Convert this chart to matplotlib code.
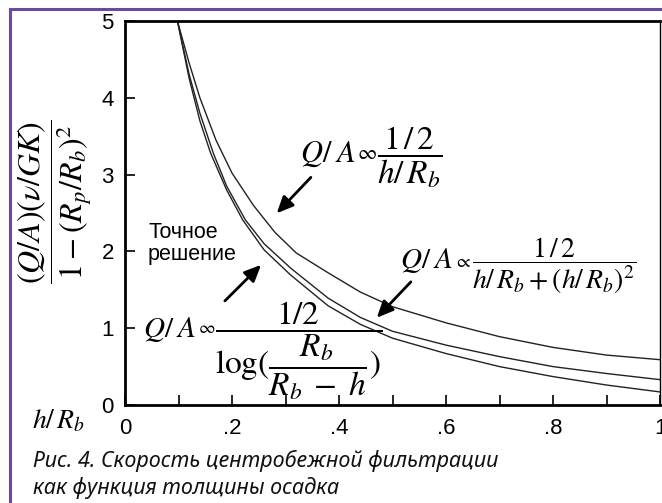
import matplotlib
matplotlib.use("Agg")
import matplotlib.pyplot as plt
from matplotlib.lines import Line2D
from matplotlib.ticker import FixedLocator, FixedFormatter

plt.rcParams['mathtext.fontset'] = 'stix'
plt.rcParams['font.family'] = ['Liberation Sans', 'DejaVu Sans']

# значения
h_upper = [0.098, 0.12, 0.14, 0.17, 0.2, 0.24, 0.28, 0.32, 0.38, 0.44, 0.5, 0.6, 0.7, 0.8, 0.9, 1.0]
q_upper = [5.0, 4.45, 4.0, 3.45, 3.02, 2.6, 2.25, 1.98, 1.72, 1.47, 1.28, 1.07, 0.89, 0.75, 0.65, 0.59]

h_mid = [0.098, 0.12, 0.14, 0.165, 0.19, 0.225, 0.26, 0.31, 0.38, 0.44, 0.5, 0.6, 0.7, 0.8, 0.9, 1.0]
q_mid = [5.0, 4.3, 3.8, 3.28, 2.85, 2.41, 2.1, 1.78, 1.39, 1.14, 0.96, 0.78, 0.63, 0.50, 0.41, 0.33]

h_exact = [0.098, 0.12, 0.14, 0.16, 0.19, 0.22, 0.26, 0.31, 0.38, 0.44, 0.5, 0.6, 0.7, 0.8, 0.9, 1.0]
q_exact = [5.0, 4.25, 3.7, 3.28, 2.8, 2.41, 2.02, 1.69, 1.29, 1.05, 0.87, 0.67, 0.50, 0.37, 0.26, 0.17]

x_ticks = [0, 0.2, 0.4, 0.6, 0.8, 1.0]
x_labels = ["0", ".2", ".4", ".6", ".8", "1"]
y_ticks = [0, 1, 2, 3, 4, 5]

fig = plt.figure(figsize=(6.62, 5.03), dpi=100)
ax = fig.add_axes([125/662, 98/503, 535/662, 384/503])

for hh, qq in [(h_upper, q_upper), (h_mid, q_mid), (h_exact, q_exact)]:
    ax.plot(hh, qq, color='#222222', lw=1.0)

ax.set_xlim(0, 1)
ax.set_ylim(0, 5)
ax.xaxis.set_major_locator(FixedLocator(x_ticks))
ax.xaxis.set_major_formatter(FixedFormatter(x_labels))
ax.xaxis.set_minor_locator(FixedLocator([0.1, 0.3, 0.5, 0.7, 0.9]))
ax.yaxis.set_major_locator(FixedLocator(y_ticks))
ax.tick_params(which='both', direction='in', length=7, width=1.2, labelsize=16, top=False, right=False)
ax.tick_params(axis='x', pad=9)
ax.tick_params(axis='y', pad=8)
for s in ax.spines.values():
    s.set_linewidth(2)
ax.spines['right'].set_linewidth(1)

# --------------------------
# формулы: "Q/A", знак, дробь — друг за другом
# --------------------------
renderer = fig.canvas.get_renderer()
inv = ax.transData.inverted()

def formula(x, y_base, y_bar, frac, qa_size, sym, sym_size, frac_size):
    t1 = ax.text(x, y_base, r'$Q/\;A$', fontsize=qa_size, va='baseline', ha='left')
    x1 = t1.get_window_extent(renderer).x1
    t2 = ax.text(inv.transform((x1 + 1, 0))[0], y_bar, sym, fontsize=sym_size, va='center', ha='left')
    x2 = t2.get_window_extent(renderer).x1
    ax.text(inv.transform((x2, 0))[0], y_base, frac, fontsize=frac_size, va='baseline', ha='left')

arrow = dict(arrowstyle='-|>,head_length=1.0,head_width=0.45', color='black', lw=2)

formula(0.327, 3.17, 3.28, r'$\dfrac{1\,/\,2}{h/\,R_b}$', 22, r'$\infty$', 15, 24)
ax.annotate('', xy=(0.28, 2.47), xytext=(0.351, 2.99), arrowprops=arrow)

formula(0.514, 1.78, 1.86, r'$\dfrac{1\,/\,2}{h/\,R_b+(h/\,R_b)^2}$', 21, r'$\propto$', 14, 20)
ax.annotate('', xy=(0.467, 1.11), xytext=(0.538, 1.63), arrowprops=arrow)

formula(0.034, 0.89, 0.99, r'$\dfrac{1/2}{\log(\dfrac{R_b}{R_b\;-\;h})}$', 21, r'$\infty$', 13, 24)
ax.annotate('', xy=(0.258, 1.85), xytext=(0.183, 1.33), arrowprops=arrow)

ax.text(0.043, 2.1, "Точное\nрешение", fontsize=15.5, va='center', ha='left', linespacing=1.05)

fig.text(55/662, (503-202)/503, r'$\dfrac{(Q/A)(\nu/GK)}{1-(R_p/R_b)^2}$', rotation=90,
         fontsize=23, ha='center', va='center')
fig.text(32/662, (503-421)/503, r'$h/\,R_b$', fontsize=20, ha='left', va='center')

fig.text(33/662, (503-461)/503, "Рис. 4. Скорость центробежной фильтрации",
         fontsize=15.5, style='italic', family=['Noto Sans', 'DejaVu Sans'], color='#111111', va='center')
fig.text(33/662, (503-488)/503, "как функция толщины осадка",
         fontsize=15.5, style='italic', family=['Noto Sans', 'DejaVu Sans'], color='#111111', va='center')

# рамка
purple = '#6a4a9c'
fig.add_artist(Line2D([10/662, 10/662], [0, (503-9)/503], color=purple, lw=2.2))
fig.add_artist(Line2D([10/662, 1], [(503-9)/503, (503-9)/503], color=purple, lw=2.2))

fig.savefig("out.png", dpi=100)
